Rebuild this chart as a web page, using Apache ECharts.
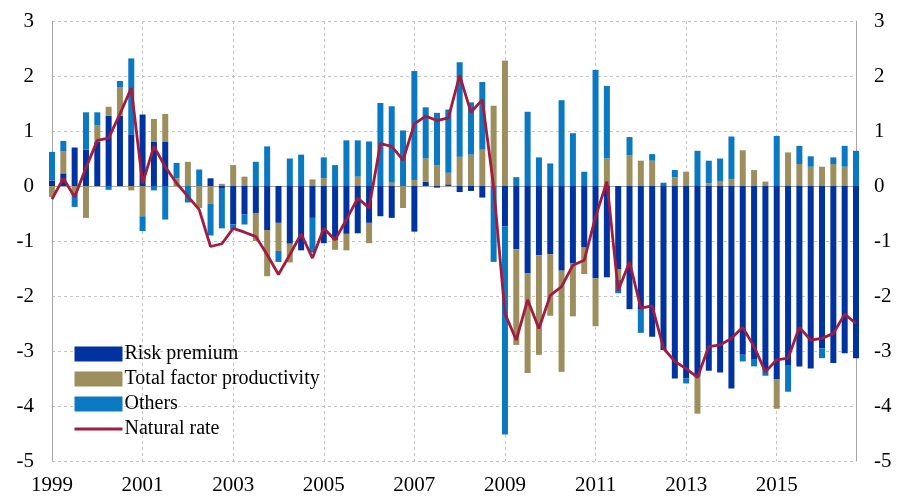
<!DOCTYPE html>
<html lang="en">
<head>
<meta charset="UTF-8">
<title>Natural rate decomposition</title>
<script src="https://cdn.jsdelivr.net/npm/echarts@6/dist/echarts.min.js"></script>
</head>
<body style="margin:0;background:#fff;">
<div id="chart" style="width:904px;height:499px;"></div>
<script>
// quarterly labels 1999Q1 .. 2016Q4
var firstYear = 1999, lastYear = 2016;
var quarters = [];
for (var y = firstYear; y <= lastYear; y++) {
    for (var q = 1; q <= 4; q++) quarters.push(y + 'Q' + q);
}

// contributions, percentage points
var riskPremium = [
    0.10, 0.23, 0.70, 0.66, 0.80, 1.28, 1.28, 0.94,
    1.30, 0.80, 0.80, 0.00, 0.00, 0.00, 0.14, -0.05,
    -0.70, -0.52, -0.49, -0.80, -0.67, -1.05, -1.17, -0.58,
    -1.04, -0.98, -0.87, -0.86, -0.67, -0.55, -0.58, 0.00,
    -0.83, 0.08, -0.03, 0.03, -0.11, -0.09, -0.21, 0.00,
    -0.73, -1.15, -1.59, -1.26, -1.24, -1.54, -1.41, -1.12,
    -1.68, -1.66, -1.52, -2.24, -2.25, -2.74, -2.98, -3.50,
    -3.50, -3.47, -3.36, -3.39, -3.68, -3.07, -3.16, -3.33,
    -3.52, -3.27, -3.28, -3.32, -2.95, -3.22, -3.04, -3.13
];
var tfp = [
    -0.20, 0.40, -0.15, -0.58, 0.30, 0.16, 0.51, -0.08,
    -0.55, 0.42, 0.51, 0.14, 0.44, -0.40, -0.32, 0.04,
    0.38, 0.17, -0.51, -0.84, -0.51, -0.34, 0.00, 0.12,
    0.14, -0.18, -0.30, 0.17, -0.37, 0.00, 0.06, -0.40,
    0.11, 0.42, 0.38, 0.21, 0.53, 0.57, 0.66, 1.46,
    2.28, -1.74, -1.81, -1.81, -1.12, -1.84, -0.96, -0.48,
    -0.87, 0.50, -0.18, 0.56, 0.46, 0.46, 0.00, 0.16,
    0.26, -0.67, 0.05, 0.08, 0.12, 0.65, 0.29, 0.08,
    -0.53, 0.61, 0.40, 0.35, 0.35, 0.40, 0.35, 0.00
];
var others = [
    0.52, 0.19, -0.23, 0.68, 0.24, -0.07, 0.12, 1.38,
    -0.27, -0.08, -0.61, 0.28, -0.30, 0.30, -0.58, -0.72,
    -0.09, -0.18, 0.44, 0.72, -0.20, 0.50, 0.57, -0.63,
    0.38, 0.38, 0.83, 0.66, 0.81, 1.51, 1.39, 1.01,
    1.98, 0.93, 0.95, 1.15, 1.72, 0.95, 1.23, -1.38,
    -3.79, 0.16, 1.35, 0.52, 0.41, 1.56, 0.96, 0.26,
    2.11, 1.32, -0.25, 0.33, -0.42, 0.12, 0.06, 0.13,
    -0.09, 0.64, 0.41, 0.42, 0.78, -0.12, -0.12, -0.12,
    0.91, -0.47, 0.33, 0.19, -0.18, 0.12, 0.38, 0.64
];
var naturalRate = [
    -0.24, 0.14, -0.20, 0.33, 0.83, 0.87, 1.31, 1.78,
    0.05, 0.72, 0.35, 0.05, -0.19, -0.43, -1.10, -1.05,
    -0.77, -0.84, -0.92, -1.25, -1.61, -1.25, -0.87, -1.31,
    -0.77, -0.98, -0.61, -0.22, -0.40, 0.77, 0.72, 0.47,
    1.13, 1.27, 1.19, 1.24, 2.01, 1.34, 1.57, -0.01,
    -2.32, -2.80, -2.07, -2.59, -1.99, -1.83, -1.44, -1.35,
    -0.56, 0.08, -1.90, -1.38, -2.22, -2.18, -2.95, -3.19,
    -3.32, -3.48, -2.92, -2.89, -2.77, -2.57, -2.92, -3.38,
    -3.16, -3.13, -2.57, -2.80, -2.77, -2.68, -2.33, -2.50
];

var serif = 'Liberation Serif';
var axisGray = '#a6a6a6';
var gridStyle = { color: '#c4c4c4', type: [3, 3], width: 1 };
var lineRed = '#a31c3f';

var chart = echarts.init(document.getElementById('chart'));

function barSeries(name, data, color) {
    return {
        name: name,
        type: 'bar',
        stack: 'total',
        data: data,
        barWidth: 6,
        itemStyle: { color: color },
        emphasis: { disabled: true }
    };
}

var option = {
    animation: false,
    backgroundColor: '#fff',
    grid: { left: 52, right: 48, top: 21, bottom: 38 },
    legend: {
        orient: 'vertical',
        left: 73,
        top: 344,
        padding: 0,
        itemWidth: 48,
        itemHeight: 15,
        itemGap: 5,
        textStyle: { fontFamily: serif, fontSize: 20, color: '#000', padding: [0, 0, 0, -3] },
        data: [
            { name: 'Risk premium', icon: 'rect' },
            { name: 'Total factor productivity', icon: 'rect' },
            { name: 'Others', icon: 'rect' },
            { name: 'Natural rate', itemStyle: { opacity: 0 }, lineStyle: { color: lineRed, width: 3 } }
        ]
    },
    xAxis: {
        type: 'category',
        data: quarters,
        boundaryGap: false,
        axisLine: { lineStyle: { color: axisGray } },
        axisTick: { show: true, interval: 7, length: 5, lineStyle: { color: axisGray } },
        splitLine: { show: true, interval: 7, lineStyle: gridStyle },
        axisLabel: {
            interval: 7,
            margin: 14,
            fontFamily: serif,
            fontSize: 21,
            color: '#000',
            formatter: function (v) { return v.slice(0, 4); }
        }
    },
    yAxis: [
        {
            type: 'value',
            min: -5, max: 3, interval: 1,
            axisLine: { show: true, lineStyle: { color: axisGray } },
            axisTick: { show: false },
            splitLine: { show: true, lineStyle: gridStyle },
            axisLabel: { margin: 18, fontFamily: serif, fontSize: 21, color: '#000' }
        },
        {
            type: 'value',
            position: 'right',
            min: -5, max: 3, interval: 1,
            axisLine: { show: true, lineStyle: { color: axisGray } },
            axisTick: { show: false },
            splitLine: { show: false },
            axisLabel: { margin: 18, fontFamily: serif, fontSize: 21, color: '#000' }
        }
    ],
    series: [
        barSeries('Risk premium', riskPremium, '#0033a0'),
        barSeries('Total factor productivity', tfp, '#9d8f5d'),
        barSeries('Others', others, '#0b78c2'),
        {
            name: 'Natural rate',
            type: 'line',
            data: naturalRate,
            symbol: 'none',
            z: 5,
            lineStyle: { color: lineRed, width: 2.8 },
            emphasis: { disabled: true }
        }
    ]
};

chart.setOption(option);
</script>
</body>
</html>
